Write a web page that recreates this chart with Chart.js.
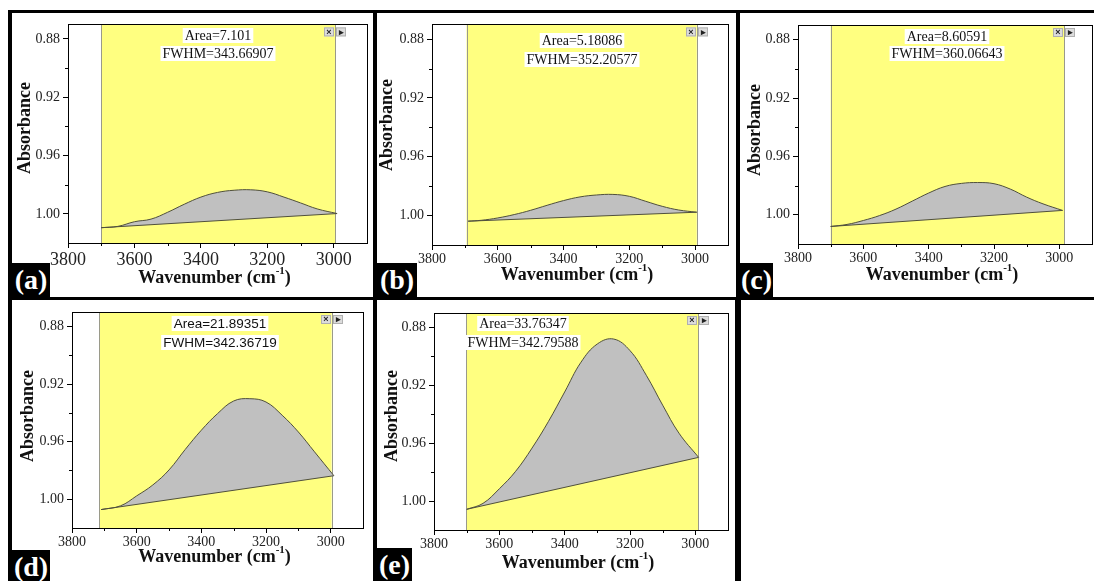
<!DOCTYPE html>
<html>
<head>
<meta charset="utf-8">
<script src="https://cdn.jsdelivr.net/npm/chart.js@4.4.1/dist/chart.umd.min.js"></script>
<style>
  html, body { margin: 0; padding: 0; background: #fff; }
  #frame { position: relative; width: 1094px; height: 581px; overflow: hidden; background: #fff; }
  #ink { position: absolute; left: 8px; top: 10px; width: 1100px; height: 580px; background: #000; }
  .panel { position: absolute; background: #fff; }
  .panel canvas { position: absolute; left: 0; top: 0; }
  .tag { position: absolute; background: #000; color: #fff; font: bold 28px "Liberation Serif", serif;
         line-height: 34px; text-align: center; z-index: 5; }
</style>
</head>
<body>
<div id="frame">
  <div id="ink"></div>
  <div class="panel" style="left:741px;top:300px;width:360px;height:290px"></div>
</div>
<script>
// axes (shared by all panels)
const xTicks = [3800, 3600, 3400, 3200, 3000];
const xMinor = [3700, 3500, 3300, 3100];
const yTicks = [0.88, 0.92, 0.96, 1.00];
const yMinor = [0.90, 0.94, 0.98];

const panelTags = ['(a)', '(b)', '(c)', '(d)', '(e)'];
const areaLabels = ['Area=7.101', 'Area=5.18086', 'Area=8.60591', 'Area=21.89351', 'Area=33.76347'];
const fwhmLabels = ['FWHM=343.66907', 'FWHM=352.20577', 'FWHM=360.06643', 'FWHM=342.36719', 'FWHM=342.79588'];

// integration window (yellow)
const bandStart = [3700, 3695, 3700, 3715, 3702];
const bandEnd = [2995, 2995, 2985, 2997, 2991];

// (a)
const waveA = [3700, 3650, 3600, 3550, 3500, 3450, 3400, 3350, 3300, 3250, 3200, 3150, 3100, 3050, 2990];
const absA = [1.0095, 1.0086, 1.0054, 1.0036, 0.9989, 0.9934, 0.9885, 0.9853, 0.9838, 0.9835, 0.9849, 0.9885, 0.9925, 0.9966, 0.9998];
const baseA = [[3700, 1.0095], [2990, 0.9998]];
// (b)
const waveB = [3690, 3650, 3600, 3550, 3500, 3450, 3400, 3350, 3300, 3250, 3200, 3150, 3100, 3050, 2995];
const absB = [1.0038, 1.0032, 1.0016, 0.9993, 0.9964, 0.9930, 0.9898, 0.9873, 0.9860, 0.9856, 0.9869, 0.9903, 0.9937, 0.9962, 0.9977];
const baseB = [[3690, 1.0038], [2995, 0.9977]];
// (c)
const waveC = [3700, 3650, 3600, 3550, 3500, 3450, 3400, 3350, 3300, 3250, 3200, 3150, 3100, 3050, 2990];
const absC = [1.0080, 1.0066, 1.0039, 1.0005, 0.9961, 0.9906, 0.9851, 0.9806, 0.9785, 0.9779, 0.9787, 0.9824, 0.9879, 0.9925, 0.9970];
const baseC = [[3700, 1.0080], [2990, 0.9970]];
// (d)
const waveD = [3710, 3650, 3600, 3550, 3500, 3450, 3400, 3350, 3300, 3250, 3200, 3150, 3100, 3050, 2990];
const absD = [1.0072, 1.0046, 0.9977, 0.9901, 0.9797, 0.9655, 0.9521, 0.9406, 0.9318, 0.9302, 0.9325, 0.9417, 0.9533, 0.9671, 0.9837];
const baseD = [[3710, 1.0072], [2990, 0.9837]];
// (e)
const waveE = [3700, 3650, 3600, 3550, 3500, 3450, 3400, 3350, 3300, 3250, 3200, 3150, 3100, 3050, 2990];
const absE = [1.0057, 1.0016, 0.9915, 0.9794, 0.9634, 0.9451, 0.9246, 0.9040, 0.8914, 0.8880, 0.8960, 0.9131, 0.9337, 0.9531, 0.9698];
const baseE = [[3700, 1.0057], [2990, 0.9698]];

const curves = [[waveA, absA, baseA], [waveB, absB, baseB], [waveC, absC, baseC], [waveD, absD, baseD], [waveE, absE, baseE]];

const SERIF = '"Liberation Serif", "Times New Roman", serif';
const SANS = '"Liberation Sans", Arial, sans-serif';
const Y_W = 40, X_H = 30;

// page geometry of each panel (white box, plot rect, text spots)
const boxes = [
  { l: 12, t: 13, w: 361, h: 284, plot: [68, 23, 367, 243], xts: 18, yTx: 25, yTy: 128, xTy: 278, nX: 218, nY: [35, 53], nF: SERIF, tag: [12, 263, 38, 34] },
  { l: 377, t: 13, w: 359, h: 284, plot: [432, 23, 728, 245], xts: 14, yTx: 387, yTy: 125, xTy: 275, nX: 582, nY: [40, 59], nF: SERIF, tag: [377, 263, 40, 34] },
  { l: 740, t: 13, w: 354, h: 284, plot: [798, 25, 1092, 244], xts: 14, yTx: 755, yTy: 130, xTy: 275, nX: 947, nY: [36, 53], nF: SERIF, tag: [740, 263, 33, 34] },
  { l: 12, t: 300, w: 361, h: 281, plot: [72, 312, 363, 528], xts: 14, yTx: 28, yTy: 416, xTy: 557, nX: 220, nY: [323, 342], nF: SANS, tag: [12, 550, 38, 34] },
  { l: 377, t: 300, w: 358, h: 281, plot: [434, 313, 728, 530], xts: 14, yTx: 392, yTy: 416, xTy: 563, nX: 523, nY: [323, 342], nF: SERIF, tag: [377, 548, 35, 34] },
];

const frame = document.getElementById('frame');

boxes.forEach((B, i) => {
  const div = document.createElement('div');
  div.className = 'panel';
  Object.assign(div.style, { left: B.l + 'px', top: B.t + 'px', width: B.w + 'px', height: B.h + 'px' });
  const cv = document.createElement('canvas');
  cv.width = B.w; cv.height = B.h;
  cv.style.width = B.w + 'px'; cv.style.height = B.h + 'px';
  div.appendChild(cv);
  frame.appendChild(div);

  const tag = document.createElement('div');
  tag.className = 'tag';
  tag.textContent = panelTags[i];
  Object.assign(tag.style, { left: B.tag[0] + 'px', top: B.tag[1] + 'px', width: B.tag[2] + 'px', height: B.tag[3] + 'px' });
  frame.appendChild(tag);

  const [wave, abs, base] = curves[i];

  const bandPlugin = {
    id: 'band',
    beforeDraw(chart) {
      const { ctx, chartArea: a, scales: { x } } = chart;
      const x0 = x.getPixelForValue(bandStart[i]), x1 = x.getPixelForValue(bandEnd[i]);
      ctx.save();
      ctx.fillStyle = '#ffff80';
      ctx.fillRect(x0, a.top, x1 - x0, a.bottom - a.top);
      ctx.strokeStyle = '#9a9a8a';
      ctx.lineWidth = 1;
      ctx.beginPath();
      ctx.moveTo(Math.round(x0) + 0.5, a.top); ctx.lineTo(Math.round(x0) + 0.5, a.bottom);
      ctx.moveTo(Math.round(x1) + 0.5, a.top); ctx.lineTo(Math.round(x1) + 0.5, a.bottom);
      ctx.stroke();
      ctx.restore();
    },
    afterDraw(chart) {
      const { ctx, chartArea: a, scales: { x, y } } = chart;
      ctx.save();
      // frame
      ctx.strokeStyle = '#000';
      ctx.lineWidth = 1;
      ctx.strokeRect(Math.round(a.left) + 0.5, Math.round(a.top) + 0.5, Math.round(a.right - a.left), Math.round(a.bottom - a.top));
      // minor ticks
      ctx.beginPath();
      xMinor.forEach(v => {
        const px = Math.round(x.getPixelForValue(v)) + 0.5;
        ctx.moveTo(px, a.bottom); ctx.lineTo(px, a.bottom + 3);
      });
      yMinor.forEach(v => {
        const py = Math.round(y.getPixelForValue(v)) + 0.5;
        ctx.moveTo(a.left, py); ctx.lineTo(a.left - 3, py);
      });
      ctx.stroke();

      // y title
      ctx.fillStyle = '#111';
      ctx.font = 'bold 18px ' + SERIF;
      ctx.textAlign = 'center';
      ctx.textBaseline = 'middle';
      ctx.save();
      ctx.translate(B.yTx - B.l, B.yTy - B.t);
      ctx.rotate(-Math.PI / 2);
      ctx.fillText('Absorbance', 0, 0);
      ctx.restore();

      // x title with superscript
      const big = 'bold 18px ' + SERIF, small = 'bold 11px ' + SERIF;
      const p1 = 'Wavenumber (cm', p2 = '-1', p3 = ')';
      ctx.font = big; const w1 = ctx.measureText(p1).width, w3 = ctx.measureText(p3).width;
      ctx.font = small; const w2 = ctx.measureText(p2).width;
      let tx = (a.left + a.right) / 2 - 3 - (w1 + w2 + w3) / 2;
      const ty = B.xTy - B.t;
      ctx.textAlign = 'left';
      ctx.font = big; ctx.fillText(p1, tx, ty); tx += w1;
      ctx.font = small; ctx.fillText(p2, tx, ty - 7); tx += w2;
      ctx.font = big; ctx.fillText(p3, tx, ty);

      // Area / FWHM notes
      ctx.font = (B.nF === SANS ? '13.5px ' : '14px ') + B.nF;
      ctx.textAlign = 'center';
      [areaLabels[i], fwhmLabels[i]].forEach((s, k) => {
        const w = ctx.measureText(s).width;
        const cx = B.nX - B.l, cy = B.nY[k] - B.t;
        ctx.fillStyle = '#fff';
        ctx.fillRect(cx - w / 2 - 2, cy - 7, w + 4, 15);
        ctx.fillStyle = '#111';
        ctx.fillText(s, cx, cy + 1);
      });

      // little close / arrow buttons at the window edge
      const xr = Math.round(x.getPixelForValue(bandEnd[i]));
      const by = a.top + 3;
      [['\u00d7', xr - 11], ['\u25b8', xr + 1]].forEach(([g, bx]) => {
        ctx.fillStyle = '#dcdcdc';
        ctx.fillRect(bx, by, 10, 9);
        ctx.strokeStyle = '#b0b0b0';
        ctx.strokeRect(bx + 0.5, by + 0.5, 9, 8);
        ctx.fillStyle = '#222';
        ctx.font = 'bold 9px ' + SANS;
        ctx.fillText(g, bx + 5, by + 5);
      });
      ctx.restore();
    }
  };

  new Chart(cv, {
    type: 'line',
    data: {
      datasets: [
        {
          data: wave.map((w, k) => ({ x: w, y: abs[k] })),
          borderColor: '#50503c', borderWidth: 1,
          backgroundColor: '#c0c0c0',
          fill: 1, tension: 0.4, pointRadius: 0
        },
        {
          data: base.map(p => ({ x: p[0], y: p[1] })),
          borderColor: '#50503c', borderWidth: 1, fill: false, pointRadius: 0
        }
      ]
    },
    options: {
      responsive: false, animation: false, devicePixelRatio: 1,
      layout: { padding: {
        left: B.plot[0] - B.l - Y_W, top: B.plot[1] - B.t,
        right: B.l + B.w - B.plot[2], bottom: B.t + B.h - B.plot[3] - X_H
      } },
      plugins: { legend: { display: false }, tooltip: { enabled: false }, filler: { drawTime: 'beforeDatasetsDraw' } },
      scales: {
        x: {
          type: 'linear', reverse: true, min: 2900, max: 3800,
          afterBuildTicks: s => { s.ticks = xTicks.map(v => ({ value: v })); },
          afterFit: s => { s.height = X_H; },
          grid: { display: true, drawOnChartArea: false, tickLength: 5, tickColor: '#000', color: '#000' },
          border: { display: true, color: '#000', width: 1 },
          ticks: { autoSkip: false, maxRotation: 0, padding: 1, color: '#222', font: { family: SERIF, size: B.xts }, callback: v => String(v) }
        },
        y: {
          type: 'linear', reverse: true, min: 0.870, max: 1.020,
          afterBuildTicks: s => { s.ticks = yTicks.map(v => ({ value: v })); },
          afterFit: s => { s.width = Y_W; },
          grid: { display: true, drawOnChartArea: false, tickLength: 5, tickColor: '#000', color: '#000' },
          border: { display: true, color: '#000', width: 1 },
          ticks: { autoSkip: false, padding: 3, color: '#222', font: { family: SERIF, size: 14 }, callback: v => Number(v).toFixed(2) }
        }
      }
    },
    plugins: [bandPlugin]
  });
});
</script>
</body>
</html>
